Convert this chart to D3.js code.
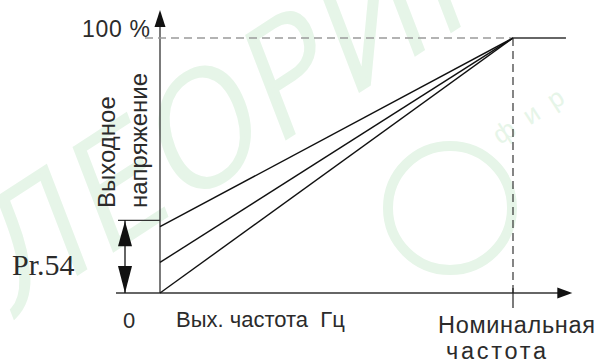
<!DOCTYPE html>
<html>
<head>
<meta charset="utf-8">
<script src="https://cdn.jsdelivr.net/npm/d3@7"></script>
<style>
  body { margin: 0; background: #fff; }
  svg { display: block; }
  text { font-family: "Liberation Sans", Arial, sans-serif; fill: #2b2b2b; white-space: pre; }
</style>
</head>
<body>
<div id="chart"></div>
<script>
// start voltage (% of rated) at 0 Hz for the three boost settings
const boostLevels = [26, 12, 0];
const boostMax = 28.5;
// frequency as a fraction of the nominal frequency
const nominalFreq = 1;
const plateauEnd = 1.15;
const axisEndX = 1.168;
const ratedVoltage = 100;

const width = 598, height = 363;

const x = d3.scaleLinear().domain([0, nominalFreq]).range([160, 513]);
const y = d3.scaleLinear().domain([0, ratedVoltage]).range([293, 38]);

const svg = d3.select("#chart").append("svg")
  .attr("width", width)
  .attr("height", height)
  .attr("viewBox", [0, 0, width, height]);

// faint watermark in the background
const wmColor = "#e6f5e8";
svg.append("text")
  .attr("transform", "translate(8,318) rotate(-33) skewX(-12)")
  .style("font-family", "'DejaVu Sans'")
  .style("font-weight", 200)
  .style("font-size", "145px")
  .style("fill", wmColor)
  .style("stroke", wmColor)
  .style("stroke-width", 5)
  .text("ЛЕОРИК");
svg.append("circle")
  .attr("cx", 450).attr("cy", 208).attr("r", 62)
  .attr("fill", "none").attr("stroke", wmColor).attr("stroke-width", 10);
svg.append("text")
  .attr("transform", "translate(500,145) rotate(-33)")
  .style("font-size", "26px")
  .style("fill", wmColor)
  .text("ф  и  р");

// axes
const axisColor = "#333";
svg.append("line")
  .attr("x1", x(0)).attr("x2", x(0))
  .attr("y1", y(0)).attr("y2", 22)
  .attr("stroke", axisColor).attr("stroke-width", 1.3);
svg.append("path")
  .attr("d", `M${x(0)},10 L${x(0) - 5.5},27 L${x(0) + 5.5},27 Z`)
  .attr("fill", "#111");

svg.append("line")
  .attr("x1", 116).attr("x2", x(axisEndX) - 10)
  .attr("y1", y(0)).attr("y2", y(0))
  .attr("stroke", axisColor).attr("stroke-width", 1.3);
svg.append("path")
  .attr("d", `M${x(axisEndX)},${y(0)} L${x(axisEndX) - 15},${y(0) - 5.5} L${x(axisEndX) - 15},${y(0) + 5.5} Z`)
  .attr("fill", "#111");

// 100 % reference (dashed) and nominal frequency marker
svg.append("line")
  .attr("x1", 145).attr("x2", x(nominalFreq))
  .attr("y1", y(ratedVoltage)).attr("y2", y(ratedVoltage))
  .attr("stroke", "#9a9a9a").attr("stroke-width", 1.3)
  .attr("stroke-dasharray", "8,5");
svg.append("line")
  .attr("x1", x(nominalFreq)).attr("x2", x(nominalFreq))
  .attr("y1", y(ratedVoltage)).attr("y2", y(0))
  .attr("stroke", "#222").attr("stroke-width", 1.1)
  .attr("stroke-dasharray", "8,5");
svg.append("line")
  .attr("x1", x(nominalFreq)).attr("x2", x(nominalFreq))
  .attr("y1", y(0) - 5).attr("y2", y(0) + 15)
  .attr("stroke", "#222").attr("stroke-width", 1.2);

// V/f lines
svg.append("g").selectAll("line")
  .data(boostLevels)
  .join("line")
  .attr("x1", x(0)).attr("y1", d => y(d))
  .attr("x2", x(nominalFreq)).attr("y2", y(ratedVoltage))
  .attr("stroke", "#111").attr("stroke-width", 1.4);
svg.append("line")
  .attr("x1", x(nominalFreq)).attr("x2", x(plateauEnd))
  .attr("y1", y(ratedVoltage)).attr("y2", y(ratedVoltage))
  .attr("stroke", "#333").attr("stroke-width", 1.5);

// boost range bracket (Pr.54)
const bx = 125;
svg.append("line")
  .attr("x1", 118).attr("x2", x(0))
  .attr("y1", y(boostMax)).attr("y2", y(boostMax))
  .attr("stroke", axisColor).attr("stroke-width", 1.3);
svg.append("line")
  .attr("x1", bx).attr("x2", bx)
  .attr("y1", y(boostMax)).attr("y2", y(0))
  .attr("stroke", "#111").attr("stroke-width", 1.3);
svg.append("path")
  .attr("d", `M${bx},${y(boostMax) + 1} L${bx - 7},${y(boostMax) + 26} L${bx + 7},${y(boostMax) + 26} Z`)
  .attr("fill", "#111");
svg.append("path")
  .attr("d", `M${bx},${y(0)} L${bx - 7},${y(0) - 27} L${bx + 7},${y(0) - 27} Z`)
  .attr("fill", "#111");

// labels
svg.append("text")
  .attr("x", 82).attr("y", 37)
  .attr("textLength", 68)
  .style("font-size", "23px")
  .text("100 %");
svg.append("text")
  .attr("x", 129).attr("y", 328)
  .attr("text-anchor", "middle")
  .style("font-size", "22px")
  .text("0");
svg.append("text")
  .attr("x", 176).attr("y", 327)
  .style("font-size", "22px")
  .text("Вых. частота  Гц");
svg.append("text")
  .attr("x", 438).attr("y", 333)
  .attr("textLength", 157)
  .style("font-size", "23.5px")
  .text("Номинальная");
svg.append("text")
  .attr("x", 446).attr("y", 359)
  .attr("textLength", 100)
  .style("font-size", "23.5px")
  .text("частота");
svg.append("text")
  .attr("x", 12).attr("y", 275)
  .style("font-family", "'Liberation Serif', 'Times New Roman', serif")
  .style("font-size", "30px")
  .text("Pr.54");
svg.append("text")
  .attr("transform", "translate(115,208) rotate(-90)")
  .style("font-size", "24px")
  .text("Выходное");
svg.append("text")
  .attr("transform", "translate(147,208) rotate(-90)")
  .style("font-size", "24px")
  .text("напряжение");
</script>
</body>
</html>
